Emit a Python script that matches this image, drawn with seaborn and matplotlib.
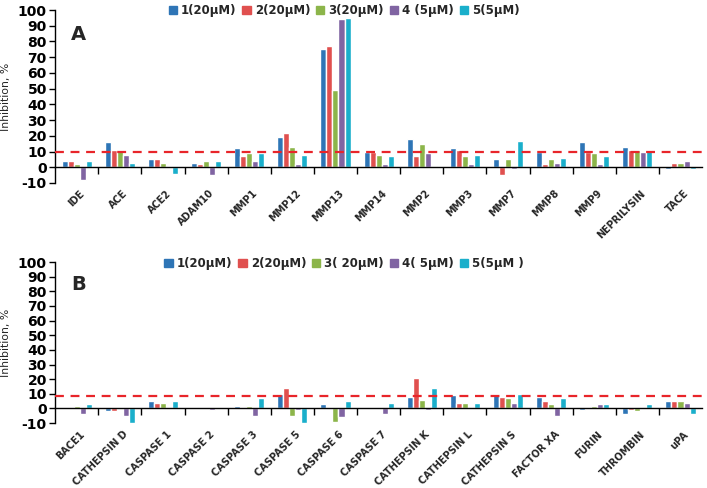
import matplotlib
matplotlib.use("Agg")
import matplotlib.pyplot as plt
import matplotlib.transforms as mtrans
import seaborn as sns
import pandas as pd
import numpy as np

sns.set_style("white")
plt.rcParams['font.family'] = ['DejaVu Sans']

series_a = ["1(20μM)", "2(20μM)", "3(20μM)", "4 (5μM)", "5(5μM)"]
series_b = ["1(20μM)", "2(20μM)", "3( 20μM)", "4( 5μM)", "5(5μM )"]
colors = ["#2E75B6", "#E0504F", "#8CB54A", "#8064A2", "#1AAFCB"]

enz_a = ["IDE", "ACE", "ACE2", "ADAM10", "MMP1", "MMP12", "MMP13", "MMP14",
         "MMP2", "MMP3", "MMP7", "MMP8", "MMP9", "NEPRILYSIN", "TACE"]
a1 = [4, 16, 5, 3, 12, 19, 75, 10, 18, 12, 5, 10, 16, 13, -1]
a2 = [4, 11, 5, 2, 7, 22, 77, 10, 7, 11, -5, 2, 10, 11, 3]
a3 = [2, 11, 3, 4, 9, 13, 49, 8, 15, 7, 5, 5, 9, 11, 3]
a4 = [-8, 8, 1, -5, 4, 2, 94, 2, 9, 2, -1, 3, 2, 10, 4]
a5 = [4, 3, -4, 4, 9, 8, 95, 7, 0.5, 8, 17, 6, 7, 11, -1]

enz_b = ["BACE1", "CATHEPSIN D", "CASPASE 1", "CASPASE 2", "CASPASE 3",
         "CASPASE 5", "CASPASE 6", "CASPASE 7", "CATHEPSIN K", "CATHEPSIN L",
         "CATHEPSIN S", "FACTOR XA", "FURIN", "THROMBIN", "uPA"]
b1 = [0.5, -2, 5, 0.5, 2, 10, 3, 0, 8, 9, 10, 8, -1, -4, 5]
b2 = [0.3, -2, 4, 0.5, 0, 14, 0.5, 0.5, 21, 4, 8, 5, 0, -1, 5]
b3 = [2, 0, 4, 0.3, 2, -5, -9, 0, 6, 4, 7, 3, 1.5, -2, 5]
b4 = [-4, -5, 0, -1, -5, -1, -6, -4, -1, 0, 4, -5, 3, 0, 4]
b5 = [3, -10, 5, 0.5, 7, -10, 5, 4, 14, 4, 10, 7, 3, 3, -4]

threshold_a = 9.5
threshold_b = 8.5


def long_df(enz, vals, names):
    rows = []
    for name, v in zip(names, vals):
        for e, x in zip(enz, v):
            rows.append({"enzyme": e, "compound": name, "value": x})
    return pd.DataFrame(rows)


df_a = long_df(enz_a, [a1, a2, a3, a4, a5], series_a)
df_b = long_df(enz_b, [b1, b2, b3, b4, b5], series_b)

fig = plt.figure(figsize=(7.07, 4.88), dpi=100)
ax_a = fig.add_axes([0.078, 0.625, 0.915, 0.3545])
ax_b = fig.add_axes([0.078, 0.133, 0.915, 0.330])


def draw(ax, df, enz, names, thr, letter, leg_y):
    sns.barplot(data=df, x="enzyme", y="value", hue="compound", order=enz,
                hue_order=names, palette=colors, width=0.7, saturation=1,
                ax=ax, errorbar=None)
    ax.set_ylim(-10, 100)
    ax.set_xlim(-0.5, len(enz) - 0.5)
    ax.set_yticks(np.arange(-10, 101, 10))
    ax.set_yticklabels([str(v) for v in range(-10, 101, 10)],
                       fontweight="bold", fontsize=10)
    ax.axhline(thr, color="#E8252A", ls=(0, (4, 3)), lw=1.6, zorder=5)
    for s in ["top", "right"]:
        ax.spines[s].set_visible(False)
    ax.spines["left"].set_color("black")
    ax.spines["left"].set_linewidth(1.0)
    ax.spines["bottom"].set_position(("data", 0))
    ax.spines["bottom"].set_color("black")
    ax.spines["bottom"].set_linewidth(1.0)
    ax.tick_params(axis="y", left=True, length=4, width=1, pad=2, colors="black")
    ax.set_xticks(range(len(enz)))
    ax.set_xticklabels(enz, rotation=45, ha="right", rotation_mode="anchor",
                       fontweight="bold", fontsize=7)
    ax.tick_params(axis="x", which="major", bottom=True, length=0, pad=15)
    ax.set_xticks(np.arange(0.5, len(enz) - 0.5, 1), minor=True)
    ax.tick_params(axis="x", which="minor", bottom=True, length=5, width=1,
                   color="black", direction="out")
    ax.set_xlabel("")
    ax.set_ylabel("Inhibition, %", fontsize=7.8, labelpad=5)
    ax.text(0.025, 0.86, letter, transform=ax.transAxes, fontsize=14,
            fontweight="bold", va="center")
    ax.legend_.remove()
    handles = [plt.Rectangle((0, 0), 1, 1, color=c) for c in colors]
    fig.legend(handles, names, loc="center", bbox_to_anchor=(0.487, leg_y),
               ncol=5, frameon=False, handlelength=0.7, handleheight=0.7,
               handletextpad=0.35, columnspacing=0.5,
               prop={"weight": "bold", "size": 8.5})
    for lab in ax.get_xticklabels():
        lab.set_transform(lab.get_transform() +
                          mtrans.ScaledTranslation(0.03, 0, fig.dpi_scale_trans))


draw(ax_a, df_a, enz_a, series_a, threshold_a, "A", 0.978)
draw(ax_b, df_b, enz_b, series_b, threshold_b, "B", 0.460)

fig.savefig("out.png", dpi=100)
